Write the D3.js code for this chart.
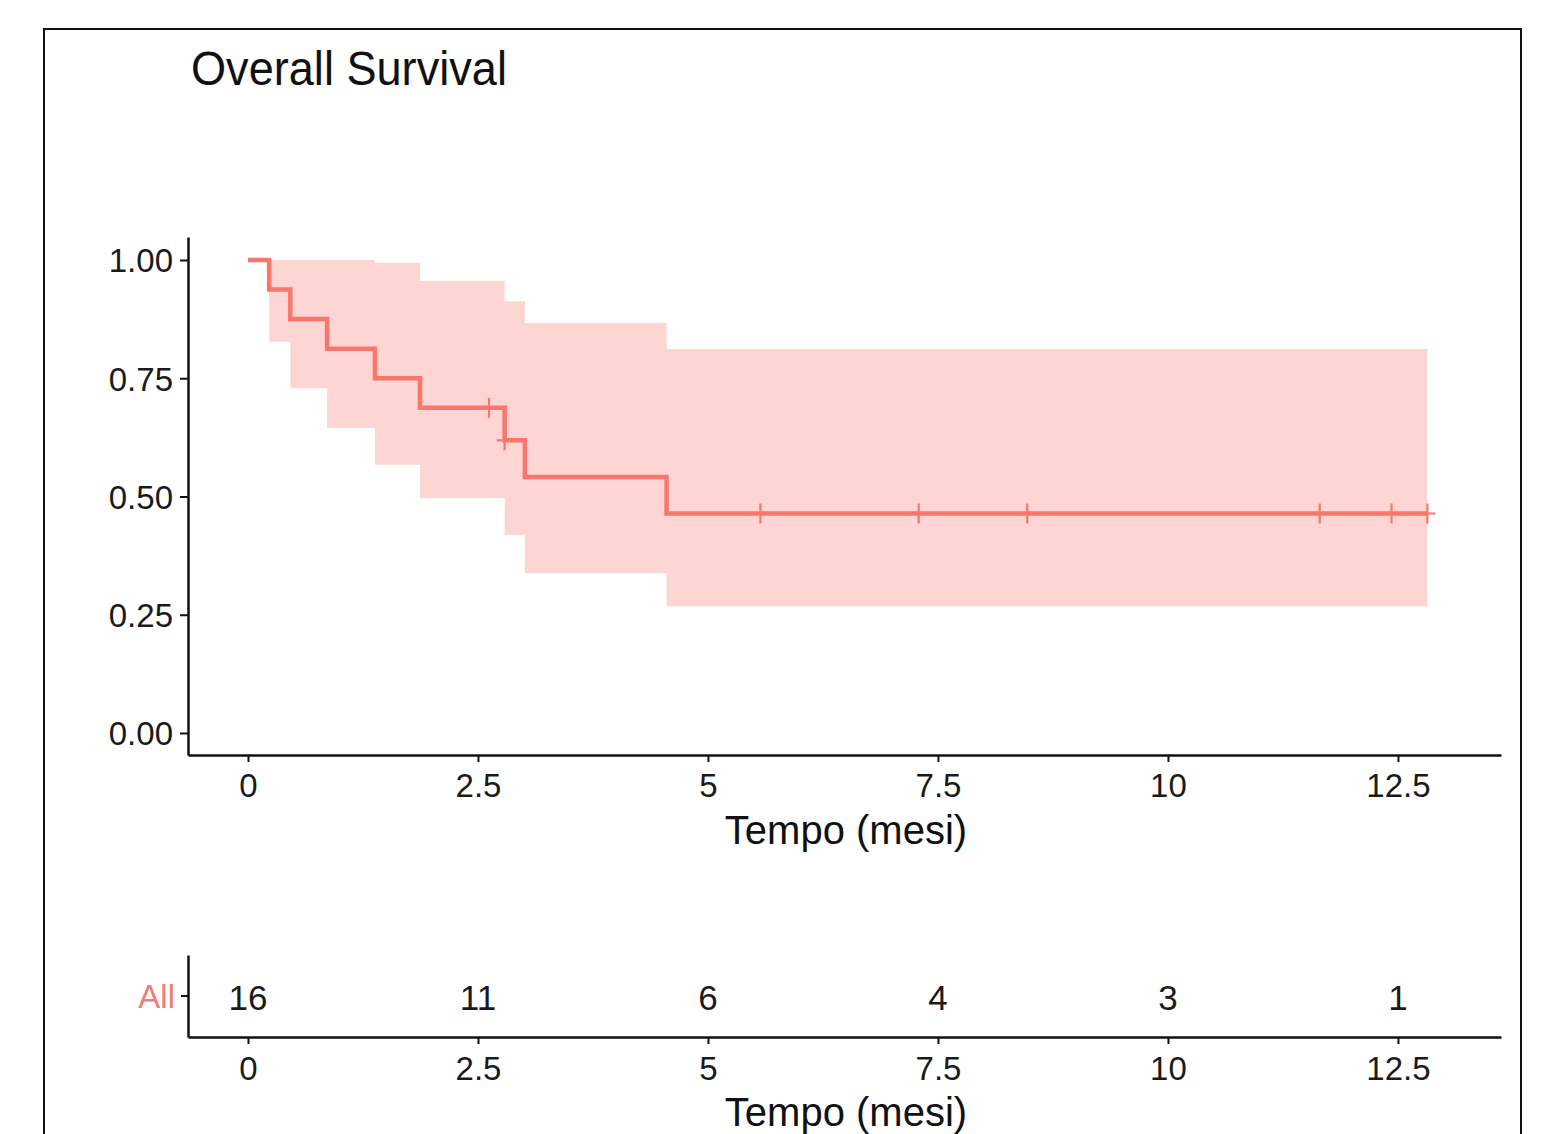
<!DOCTYPE html>
<html>
<head>
<meta charset="utf-8">
<script src="https://cdn.jsdelivr.net/npm/d3@7"></script>
<style>
  body { margin: 0; background: #fff; }
  text { font-family: "Liberation Sans", Arial, sans-serif; }
</style>
</head>
<body>
<script>
// survival curve steps (time in months, estimate, CI)
var stepTime = [0, 0.23, 0.46, 0.86, 1.38, 1.87, 2.79, 3.01, 4.55];
var survVal  = [1, 0.9375, 0.875, 0.8125, 0.75, 0.6875, 0.6188, 0.5414, 0.4641];
var upperCI  = [1, 1, 1, 1, 0.994, 0.956, 0.913, 0.867, 0.812];
var lowerCI  = [1, 0.827, 0.729, 0.645, 0.567, 0.497, 0.419, 0.338, 0.268];
var endTime = 12.82;
var censorTimes = [2.62, 2.79, 5.57, 7.29, 8.47, 11.65, 12.43, 12.82];

var xTicks = [0, 2.5, 5, 7.5, 10, 12.5];
var yTicks = [0, 0.25, 0.5, 0.75, 1];
var riskTimes = [0, 2.5, 5, 7.5, 10, 12.5];
var riskCounts = [16, 11, 6, 4, 3, 1];
var strataLabel = "All";

var red = "#F8766D";

var svg = d3.select("body").append("svg")
  .attr("width", 1545)
  .attr("height", 1134);

svg.append("rect")
  .attr("x", 44).attr("y", 29)
  .attr("width", 1477).attr("height", 1120)
  .style("fill", "white")
  .style("stroke", "#111")
  .style("stroke-width", 2);

svg.append("text")
  .attr("transform", "translate(191,85) scale(0.94,1)")
  .style("font-size", "48px")
  .style("fill", "#111")
  .text("Overall Survival");

var x = d3.scaleLinear().domain([-0.652, 13.62]).range([188, 1501]);
var y = d3.scaleLinear().domain([-0.0465, 1.0486]).range([755, 237]);

var steps = stepTime.map(function(t, i) {
  return { t: t, s: survVal[i], up: upperCI[i], lo: lowerCI[i] };
});
steps.push({ t: endTime, s: survVal[survVal.length - 1], up: upperCI[upperCI.length - 1], lo: lowerCI[lowerCI.length - 1] });

var plot = svg.append("g");

plot.append("path")
  .datum(steps)
  .attr("d", d3.area()
    .curve(d3.curveStepAfter)
    .x(function(d) { return x(d.t); })
    .y0(function(d) { return y(d.lo); })
    .y1(function(d) { return y(d.up); }))
  .style("fill", red)
  .style("fill-opacity", 0.3);

plot.append("path")
  .datum(steps)
  .attr("d", d3.line()
    .curve(d3.curveStepAfter)
    .x(function(d) { return x(d.t); })
    .y(function(d) { return y(d.s); }))
  .style("fill", "none")
  .style("stroke", red)
  .style("stroke-width", 4.5);

function survAt(t) {
  var s = 1;
  for (var i = 0; i < stepTime.length; i++) if (stepTime[i] <= t) s = survVal[i];
  return s;
}

plot.selectAll("path.censor")
  .data(censorTimes)
  .enter().append("path")
  .attr("class", "censor")
  .attr("d", function(t) {
    var cx = x(t), cy = y(survAt(t));
    return "M" + (cx - 8) + "," + cy + "H" + (cx + 8) + "M" + cx + "," + (cy - 10) + "V" + (cy + 10);
  })
  .style("stroke", red)
  .style("stroke-width", 2.2);

function styleAxis(g, size) {
  g.select(".domain").style("stroke", "#111").style("stroke-width", 2.5);
  g.selectAll(".tick line").style("stroke", "#111").style("stroke-width", 2);
  g.selectAll(".tick text").style("font-size", size).style("fill", "#1a1a1a")
    .style("font-family", "'Liberation Sans', Arial, sans-serif");
}

var yAxis = svg.append("g")
  .attr("transform", "translate(188,0)")
  .call(d3.axisLeft(y).tickValues(yTicks).tickFormat(d3.format(".2f"))
    .tickSizeInner(8).tickSizeOuter(0).tickPadding(7));
styleAxis(yAxis, "33px");
yAxis.selectAll(".tick text").attr("dy", "0.36em");

var xAxis = svg.append("g")
  .attr("transform", "translate(0,755)")
  .call(d3.axisBottom(x).tickValues(xTicks).tickFormat(d3.format(""))
    .tickSizeInner(7).tickSizeOuter(0).tickPadding(12));
styleAxis(xAxis, "33px");

svg.append("text")
  .attr("x", 846).attr("y", 844)
  .attr("text-anchor", "middle")
  .style("font-size", "40px")
  .style("fill", "#111")
  .text("Tempo (mesi)");

// risk table
var yr = d3.scaleBand().domain([strataLabel]).range([1037, 955]);

var rAxisY = svg.append("g")
  .attr("transform", "translate(188,0)")
  .call(d3.axisLeft(yr).tickSizeInner(7).tickSizeOuter(0).tickPadding(6));
styleAxis(rAxisY, "33px");
rAxisY.selectAll(".tick text").style("fill", "#F27D76").attr("dy", "0.36em");

var rAxisX = svg.append("g")
  .attr("transform", "translate(0,1037)")
  .call(d3.axisBottom(x).tickValues(xTicks).tickFormat(d3.format(""))
    .tickSizeInner(7).tickSizeOuter(0).tickPadding(13));
styleAxis(rAxisX, "33px");

svg.selectAll("text.risk")
  .data(riskTimes)
  .enter().append("text")
  .attr("class", "risk")
  .attr("x", function(d) { return x(d); })
  .attr("y", yr(strataLabel) + yr.bandwidth() / 2)
  .attr("dy", "0.40em")
  .attr("text-anchor", "middle")
  .style("font-size", "35px")
  .style("fill", "#1a1a1a")
  .text(function(d, i) { return riskCounts[i]; });

svg.append("text")
  .attr("x", 846).attr("y", 1126)
  .attr("text-anchor", "middle")
  .style("font-size", "40px")
  .style("fill", "#111")
  .text("Tempo (mesi)");
</script>
</body>
</html>
